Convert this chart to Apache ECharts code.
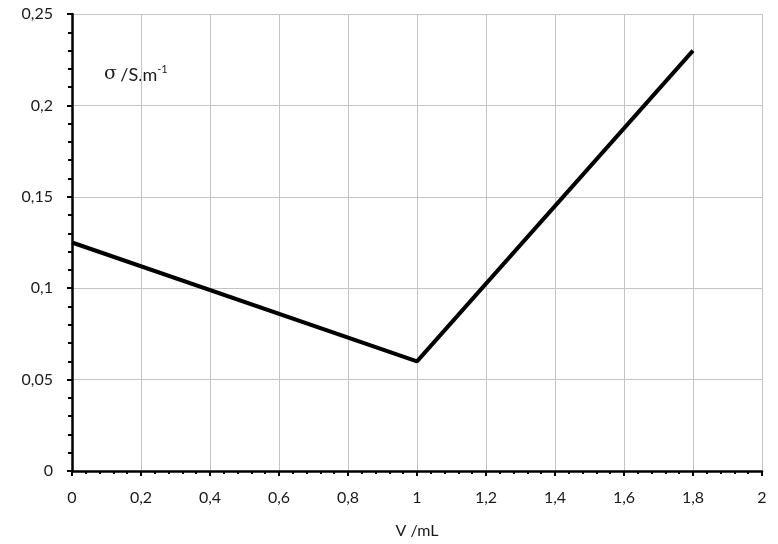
<!DOCTYPE html>
<html><head><meta charset="utf-8">
<script src="https://cdn.jsdelivr.net/npm/echarts@6/dist/echarts.min.js"></script>
<style>html,body{margin:0;padding:0;background:#fff}#c{width:778px;height:544px}</style>
</head><body><div id="c"></div>
<script>
const xValues = [0, 1, 1.8];
const yValues = [0.125, 0.06, 0.23];
const xName = 'V /mL';
const fmt = v => String(+v.toFixed(2)).replace('.', ',');
const FONT = 'Lato';
const chart = echarts.init(document.getElementById('c'));
chart.setOption({
  animation: false,
  grid: {left: 72, right: 16, top: 14, bottom: 71},
  xAxis: {
    type: 'value', min: 0, max: 2, interval: 0.2,
    name: xName, nameLocation: 'middle', nameGap: 52,
    nameTextStyle: {fontFamily: FONT, fontSize: 16, color: '#1a1a1a'},
    axisLine: {onZero: false, lineStyle: {color: '#000', width: 2.5}},
    axisTick: {show: true, length: 5, lineStyle: {color: '#000', width: 2}},
    minorTick: {show: true, splitNumber: 5, length: 3, lineStyle: {color: '#000', width: 2}},
    axisLabel: {margin: 19, fontFamily: FONT, fontSize: 16, color: '#1a1a1a', formatter: fmt},
    splitLine: {show: true, lineStyle: {color: '#c4c4c4', width: 1}}
  },
  yAxis: {
    type: 'value', min: 0, max: 0.25, interval: 0.05,
    axisLine: {show: true, onZero: false, lineStyle: {color: '#000', width: 2.5}},
    axisTick: {show: true, length: 5, lineStyle: {color: '#000', width: 2}},
    minorTick: {show: true, splitNumber: 5, length: 4, lineStyle: {color: '#000', width: 2}},
    axisLabel: {margin: 19, fontFamily: FONT, fontSize: 16, color: '#1a1a1a', formatter: fmt},
    splitLine: {show: true, lineStyle: {color: '#c4c4c4', width: 1}}
  },
  graphic: [{
    type: 'text', left: 104, top: 64,
    style: {
      text: '{g|σ} {a|/S.m}{s|-1}',
      rich: {
        g: {fontFamily: 'DejaVu Serif', fontSize: 19, fill: '#1a1a1a', verticalAlign: 'bottom'},
        a: {fontFamily: FONT, fontSize: 18, fill: '#1a1a1a', verticalAlign: 'bottom'},
        s: {fontFamily: FONT, fontSize: 11, fill: '#1a1a1a', verticalAlign: 'top', padding: [0,0,9,0]}
      }
    }
  }],
  series: [{
    type: 'line', data: xValues.map((x, i) => [x, yValues[i]]),
    symbol: 'none', lineStyle: {color: '#000', width: 4}
  }]
});
</script></body></html>
